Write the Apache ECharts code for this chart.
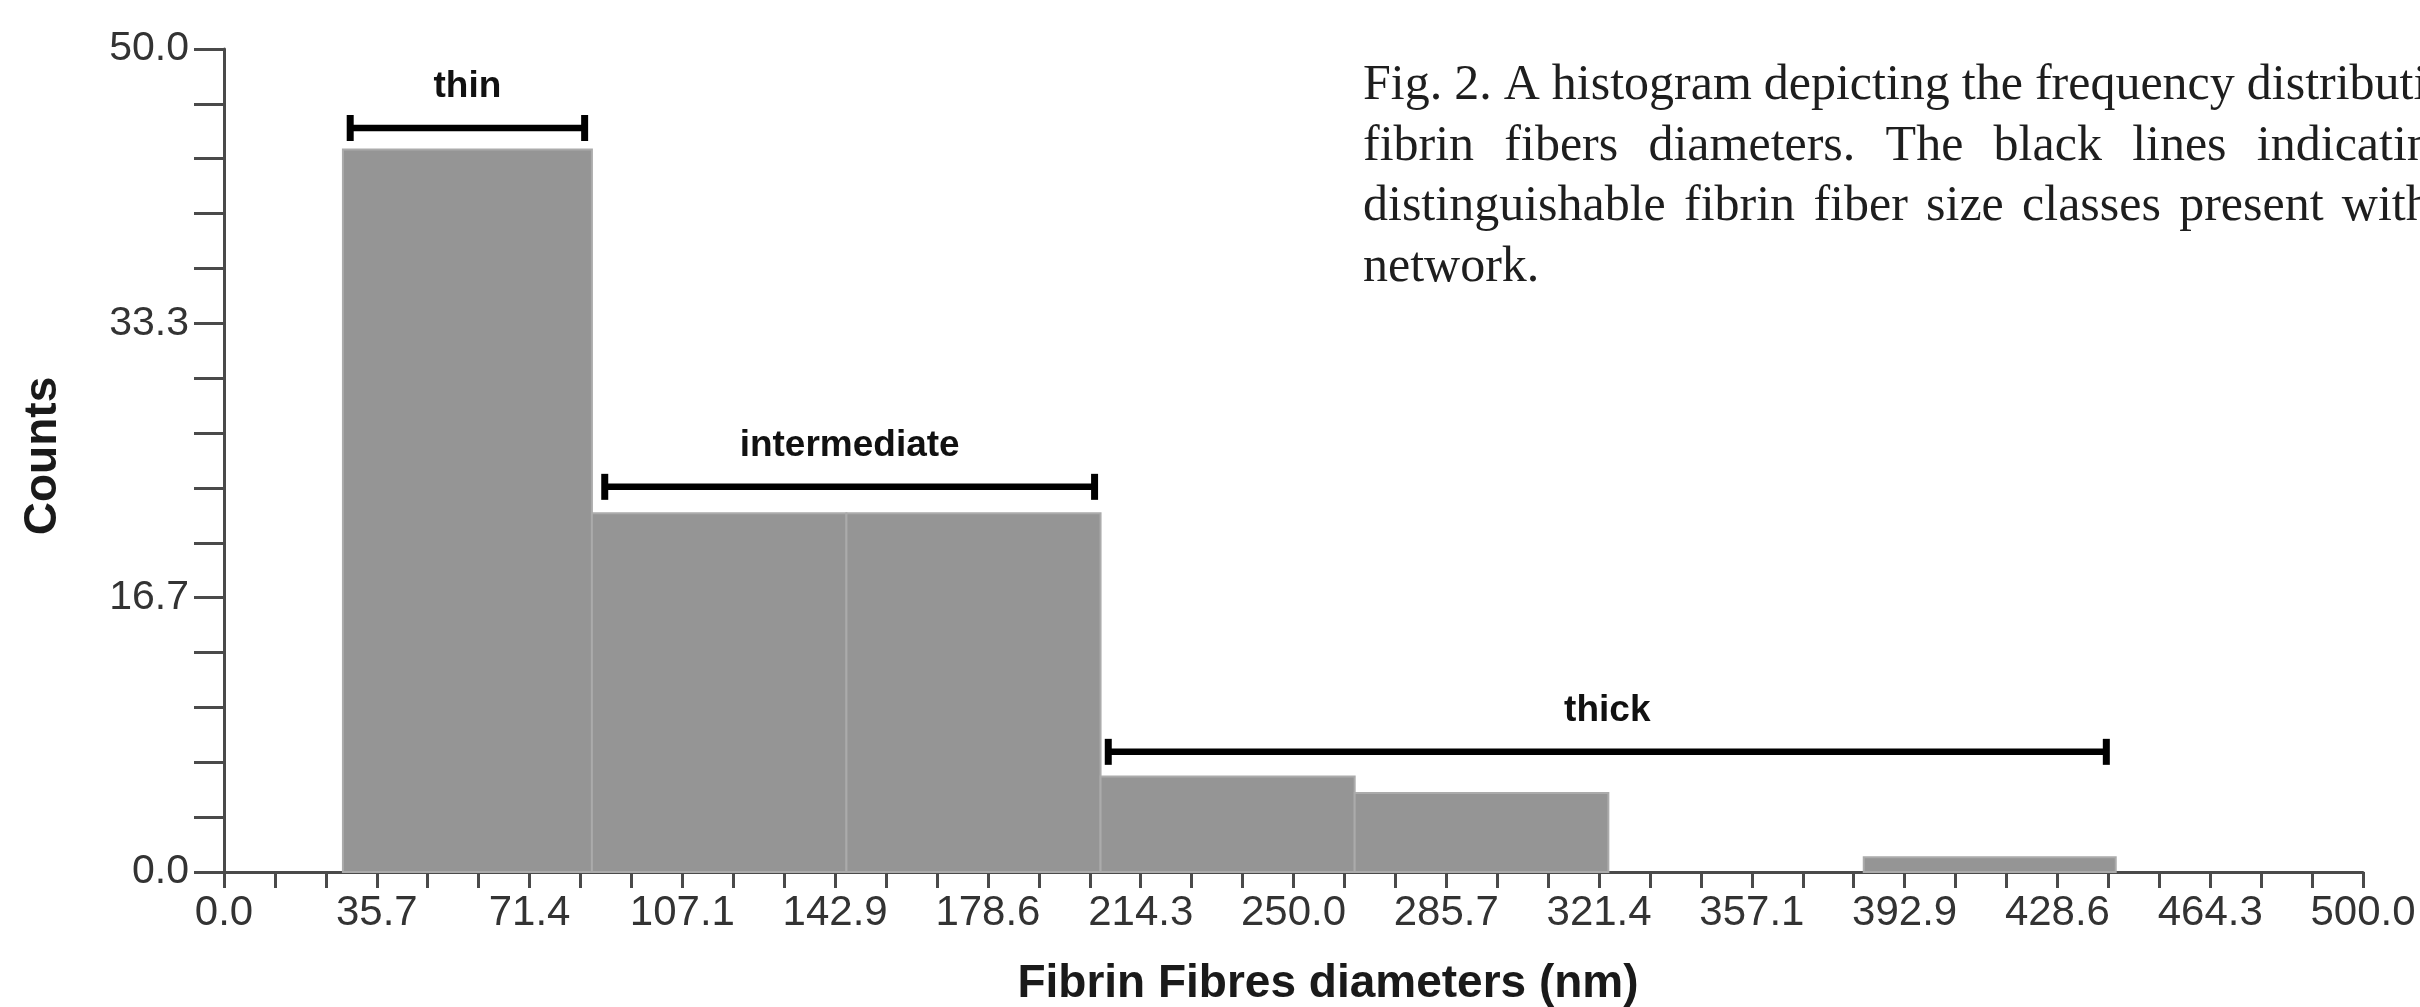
<!DOCTYPE html>
<html><head><meta charset="utf-8">
<script src="https://cdn.jsdelivr.net/npm/echarts@6/dist/echarts.min.js"></script>
<style>html,body{margin:0;padding:0;background:#fff;} #c{width:2420px;height:1007px;}</style>
</head><body><div id="c"></div>
<script>
// ---- data ----
const xTickLabels = ['0.0','35.7','71.4','107.1','142.9','178.6','214.3','250.0','285.7','321.4','357.1','392.9','428.6','464.3','500.0'];
const yTickLabels = ['0.0','16.7','33.3','50.0'];
const binStarts = [27.8, 86.0, 145.5, 204.9, 264.3, 323.6, 383.3];
const binEnds   = [86.0, 145.5, 204.9, 264.3, 323.6, 383.3, 442.2];
const counts    = [43.9, 21.8, 21.8, 5.8, 4.8, 0, 0.9];
const classNames  = ['thin', 'intermediate', 'thick'];
const classStarts = [29.5, 89.0, 206.7];
const classEnds   = [84.3, 203.5, 440.0];
const classLevels = [45.2, 23.4, 7.3];
const captionLines = [
  'Fig. 2. A histogram depicting the frequency distribution of',
  'fibrin fibers diameters. The black lines indicating three',
  'distinguishable fibrin fiber size classes present within the',
  'network.'
];
const xTitle = 'Fibrin Fibres diameters (nm)';
const yTitle = 'Counts';

const xMax = 500, yMax = 50;
const xInterval = xMax / (xTickLabels.length - 1);
const yInterval = yMax / (yTickLabels.length - 1);

const AX = '#4a4a4a';
const SANS = '"Liberation Sans", Arial, sans-serif';
const SERIF_FONT = '50px "Liberation Serif", "Times New Roman", serif';

const barData = binStarts.map((s, i) => [s, binEnds[i], counts[i]]).filter(d => d[2] > 0);
const classData = classNames.map((n, i) => [classStarts[i], classEnds[i], classLevels[i], n]);

// justified caption lines (per-line set widths; last line left as is)
const measureCtx = document.createElement('canvas').getContext('2d');
measureCtx.font = SERIF_FONT;
const capLeft = 1363, capTop = 86, capLineH = 60.5;
const capWidths = [1168, 1224, 1186, null];
const captionGraphics = [];
captionLines.forEach((line, li) => {
  const words = line.split(' ');
  const widths = words.map(w => measureCtx.measureText(w).width);
  const spaceW = measureCtx.measureText(' ').width;
  const total = widths.reduce((a, b) => a + b, 0);
  const target = capWidths[li];
  const gap = (target && words.length > 1) ? (target - total) / (words.length - 1) : spaceW;
  let x = capLeft;
  words.forEach((w, wi) => {
    captionGraphics.push({
      type: 'text', silent: true,
      style: {text: w, x: x, y: capTop + li * capLineH, font: SERIF_FONT,
              fill: '#1e1e1e', align: 'left', verticalAlign: 'middle'}
    });
    x += widths[wi] + gap;
  });
});

const chart = echarts.init(document.getElementById('c'), null, {renderer: 'canvas'});

chart.setOption({
  animation: false,
  backgroundColor: '#ffffff',
  grid: {left: 224, right: 57, top: 49, bottom: 135},
  xAxis: {
    type: 'value', min: 0, max: xMax, interval: xInterval,
    axisLine: {show: true, lineStyle: {color: AX, width: 3}},
    axisTick: {show: true, length: 16, lineStyle: {color: AX, width: 3}},
    minorTick: {show: true, splitNumber: 3, length: 16, lineStyle: {color: AX, width: 3}},
    splitLine: {show: false},
    axisLabel: {
      margin: 20, color: '#333', fontSize: 42, fontFamily: SANS,
      showMinLabel: true, showMaxLabel: true, hideOverlap: false,
      formatter: v => xTickLabels[Math.round(v / xInterval)] ?? ''
    }
  },
  yAxis: {
    type: 'value', min: 0, max: yMax, interval: yInterval,
    axisLine: {show: true, lineStyle: {color: AX, width: 3}},
    axisTick: {show: true, length: 30, lineStyle: {color: AX, width: 3}},
    minorTick: {show: true, splitNumber: 5, length: 30, lineStyle: {color: AX, width: 3}},
    splitLine: {show: false},
    axisLabel: {
      margin: 35, color: '#333', fontSize: 41, fontFamily: SANS,
      formatter: v => yTickLabels[Math.round(v / yInterval)] ?? ''
    }
  },
  series: [
    {
      type: 'custom', name: 'counts', data: barData, z: 1,
      encode: {x: [0, 1], y: 2},
      renderItem: (params, api) => {
        const p0 = api.coord([api.value(0), api.value(2)]);
        const p1 = api.coord([api.value(1), 0]);
        return {
          type: 'rect',
          shape: {x: p0[0], y: p0[1], width: p1[0] - p0[0], height: p1[1] - p0[1]},
          style: {fill: '#959595', stroke: '#ababab', lineWidth: 2}
        };
      }
    },
    {
      type: 'custom', name: 'classes', data: classData, z: 5,
      encode: {x: [0, 1], y: 2},
      renderItem: (params, api) => {
        const a = api.coord([api.value(0), api.value(2)]);
        const b = api.coord([api.value(1), api.value(2)]);
        const name = classData[params.dataIndex][3];
        const cap = 13;
        return {
          type: 'group',
          children: [
            {type: 'line', shape: {x1: a[0], y1: a[1], x2: b[0], y2: b[1]}, style: {stroke: '#000', lineWidth: 6.5}},
            {type: 'line', shape: {x1: a[0], y1: a[1] - cap, x2: a[0], y2: a[1] + cap}, style: {stroke: '#000', lineWidth: 7}},
            {type: 'line', shape: {x1: b[0], y1: b[1] - cap, x2: b[0], y2: b[1] + cap}, style: {stroke: '#000', lineWidth: 7}},
            {type: 'text', style: {
              text: name, x: (a[0] + b[0]) / 2, y: a[1] - 41,
              font: 'bold 37px ' + SANS, fill: '#111', align: 'center', verticalAlign: 'middle'
            }}
          ]
        };
      }
    }
  ],
  graphic: [
    {
      type: 'text', silent: true, x: 1328, y: 984,
      style: {text: xTitle, x: 0, y: 0, font: 'bold 46px ' + SANS, fill: '#1a1a1a', align: 'center', verticalAlign: 'middle'}
    },
    {
      type: 'text', silent: true, x: 43, y: 456, rotation: Math.PI / 2,
      style: {text: yTitle, x: 0, y: 0, font: 'bold 46px ' + SANS, fill: '#1a1a1a', align: 'center', verticalAlign: 'middle'}
    }
  ].concat(captionGraphics)
});
</script>
</body></html>
